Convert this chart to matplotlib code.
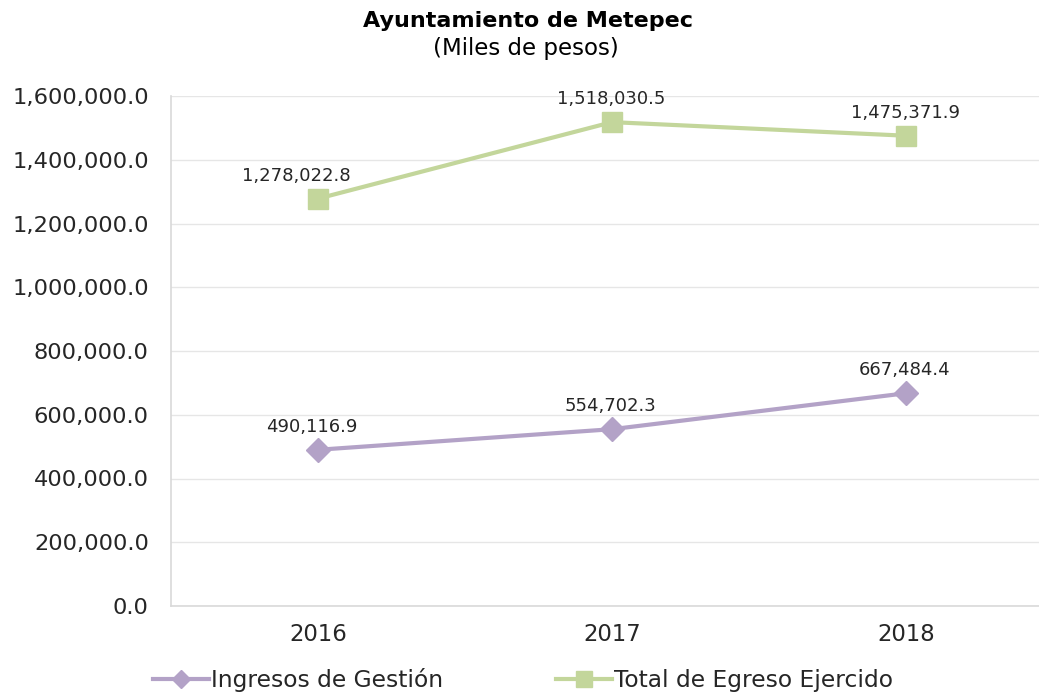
import matplotlib
matplotlib.use("Agg")
import matplotlib.pyplot as plt
from matplotlib.ticker import FuncFormatter
from matplotlib.lines import Line2D

plt.rcParams['font.family'] = ['DejaVu Sans']

years = ["2016", "2017", "2018"]
ingresos = [490116.9, 554702.3, 667484.4]
egresos = [1278022.8, 1518030.5, 1475371.9]
series_names = ["Ingresos de Gestión", "Total de Egreso Ejercido"]
title = "Ayuntamiento de Metepec"
subtitle = "(Miles de pesos)"

purple = "#b3a2c7"
green = "#c3d69b"

fig = plt.figure(figsize=(10.39, 6.94), dpi=100)
W, H = 1039, 694
ax = fig.add_axes([171 / W, (H - 606) / H, (1039 - 171) / W, (606 - 96) / H])

x = list(range(len(years)))
ax.plot(x, ingresos, color=purple, lw=3, marker='D', ms=12, label=series_names[0], zorder=3)
ax.plot(x, egresos, color=green, lw=3, marker='s', ms=14, label=series_names[1], zorder=3)

def fmt(v):
    return f"{v:,.1f}"

for i, v in enumerate(ingresos):
    dx = -6 if i == 0 else -2
    ax.annotate(fmt(v), (i, v), xytext=(dx * 0.72, 23 * 0.72), textcoords='offset points',
                ha='center', va='center', fontsize=13, color='#262626')
for i, v in enumerate(egresos):
    dx = -22 if i == 0 else -1
    ax.annotate(fmt(v), (i, v), xytext=(dx * 0.72, 23 * 0.72), textcoords='offset points',
                ha='center', va='center', fontsize=13, color='#262626')

ax.set_xlim(-0.5, 2.452)
ax.set_ylim(0, 1600000)
ax.set_yticks(range(0, 1600001, 200000))
ax.yaxis.set_major_formatter(FuncFormatter(lambda v, p: f"{v:,.1f}"))
ax.set_xticks(x)
ax.set_xticklabels(years)
ax.tick_params(axis='y', length=0, pad=16, labelsize=16.2, labelcolor='#262626')
ax.tick_params(axis='x', length=0, pad=12, labelsize=16.4, labelcolor='#262626')
ax.grid(axis='y', color='#e6e6e6', lw=1)
ax.set_axisbelow(True)
for s in ['top', 'right']:
    ax.spines[s].set_visible(False)
ax.spines['left'].set_color('#d9d9d9')
ax.spines['bottom'].set_color('#d9d9d9')
ax.spines['left'].set_linewidth(1.2)
ax.spines['bottom'].set_linewidth(1.2)

fig.text(528 / W, 1 - 21 / H, title, ha='center', va='center', fontsize=16, fontweight='bold', color='#000000')
fig.text(526 / W, 1 - 48 / H, subtitle, ha='center', va='center', fontsize=16.5, color='#000000')

handles = [Line2D([], [], color=purple, lw=3, marker='D', ms=9),
           Line2D([], [], color=green, lw=3, marker='s', ms=11)]
fig.legend(handles, series_names, loc='center', bbox_to_anchor=(523 / W, 1 - 680 / H), ncol=2,
           frameon=False, fontsize=16.8, columnspacing=4.8, handlelength=2.4, handletextpad=0.1,
           labelcolor='#262626')

fig.savefig("out.png", dpi=100, facecolor='white')
